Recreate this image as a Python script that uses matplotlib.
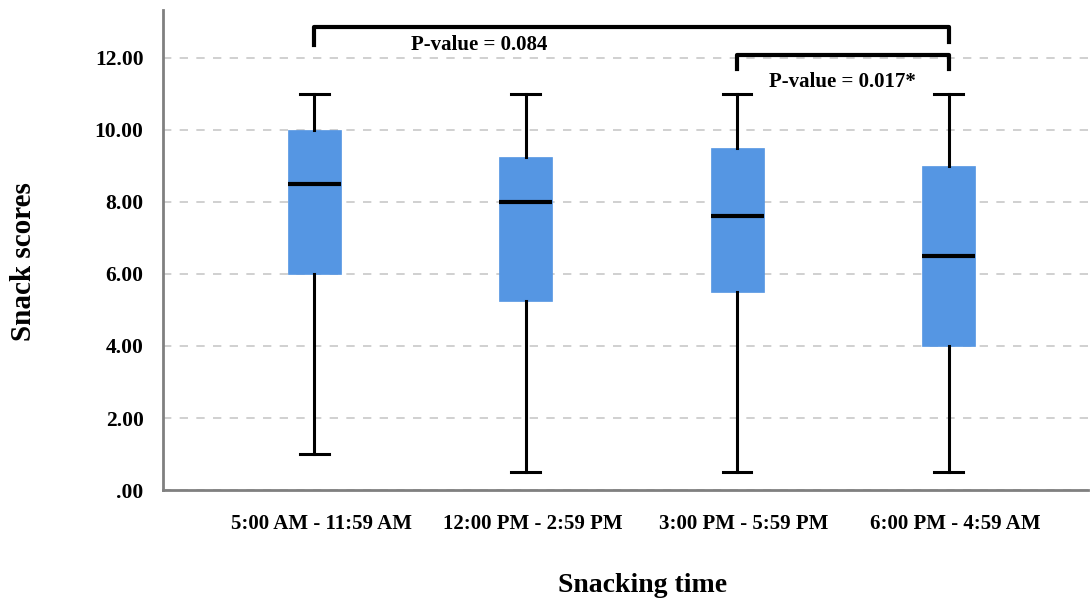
import matplotlib
matplotlib.use("Agg")
import matplotlib.pyplot as plt
from matplotlib.transforms import ScaledTranslation

categories = ["5:00 AM - 11:59 AM", "12:00 PM - 2:59 PM", "3:00 PM - 5:59 PM", "6:00 PM - 4:59 AM"]
whislo = [1.0, 0.5, 0.5, 0.5]
q1 = [6.0, 5.25, 5.5, 4.0]
med = [8.5, 8.0, 7.6, 6.5]
q3 = [10.0, 9.25, 9.5, 9.0]
whishi = [11.0, 11.0, 11.0, 11.0]
yticks = [0, 2, 4, 6, 8, 10, 12]
ytick_labels = [".00", "2.00", "4.00", "6.00", "8.00", "10.00", "12.00"]

plt.rcParams['font.family'] = ['Liberation Serif', 'DejaVu Serif']
plt.rcParams['font.weight'] = 'bold'

fig = plt.figure(figsize=(10.91, 6.0), dpi=100)
ax = fig.add_axes([0.1494, 0.1833, 0.8479, 0.80])

stats = []
for i in range(len(categories)):
    stats.append(dict(whislo=whislo[i], q1=q1[i], med=med[i], q3=q3[i], whishi=whishi[i], fliers=[]))

positions = list(range(len(categories)))
ax.bxp(stats, positions=positions, widths=0.25, capwidths=0.135, patch_artist=True, showfliers=False,
       boxprops=dict(facecolor="#5596E3", edgecolor="#5596E3", linewidth=0.5),
       medianprops=dict(color="black", linewidth=3),
       whiskerprops=dict(color="black", linewidth=2.2),
       capprops=dict(color="black", linewidth=2.2), zorder=3)

ax.set_xlim(-0.716, 3.66)
ax.set_ylim(0, 13.33)
ax.set_yticks(yticks)
ax.set_yticklabels(ytick_labels, fontsize=15.5, fontweight='bold')
ax.set_xticks(positions)
ax.set_xticklabels(categories, fontsize=15, fontweight='bold')
ax.tick_params(axis='y', length=0, pad=14)
ax.tick_params(axis='x', length=0, pad=17)
offset = ScaledTranslation(7 / 100, 0, fig.dpi_scale_trans)
for lbl in ax.get_xticklabels():
    lbl.set_transform(lbl.get_transform() + offset)

ax.yaxis.grid(True, linestyle=(0, (5, 5)), color="#c8c8c8", linewidth=1.2, zorder=0)
ax.set_axisbelow(True)
for s in ["top", "right"]:
    ax.spines[s].set_visible(False)
for s in ["left", "bottom"]:
    ax.spines[s].set_color("#808080")
    ax.spines[s].set_linewidth(2)

ax.set_ylabel("Snack scores", fontsize=21, fontweight='bold')
ax.yaxis.set_label_coords(-0.136, 0.475)
ax.set_xlabel("Snacking time", fontsize=20, fontweight='bold')
ax.xaxis.set_label_coords(0.518, -0.172)

# significance brackets
def bracket(x0, x1, ytop, yl, yr, text, tx, ty):
    ax.plot([x0, x0, x1, x1], [yl, ytop, ytop, yr], color="black", linewidth=3,
            solid_joinstyle='round', clip_on=False, zorder=4)
    ax.text(tx, ty, text, ha='center', va='center', fontsize=15, fontweight='bold')

bracket(0, 3, 12.85, 12.35, 12.45, "P-value = 0.084", 0.78, 12.35)
bracket(2, 3, 12.08, 11.7, 11.7, "P-value = 0.017*", 2.5, 11.33)

fig.savefig("out.png", dpi=100)
